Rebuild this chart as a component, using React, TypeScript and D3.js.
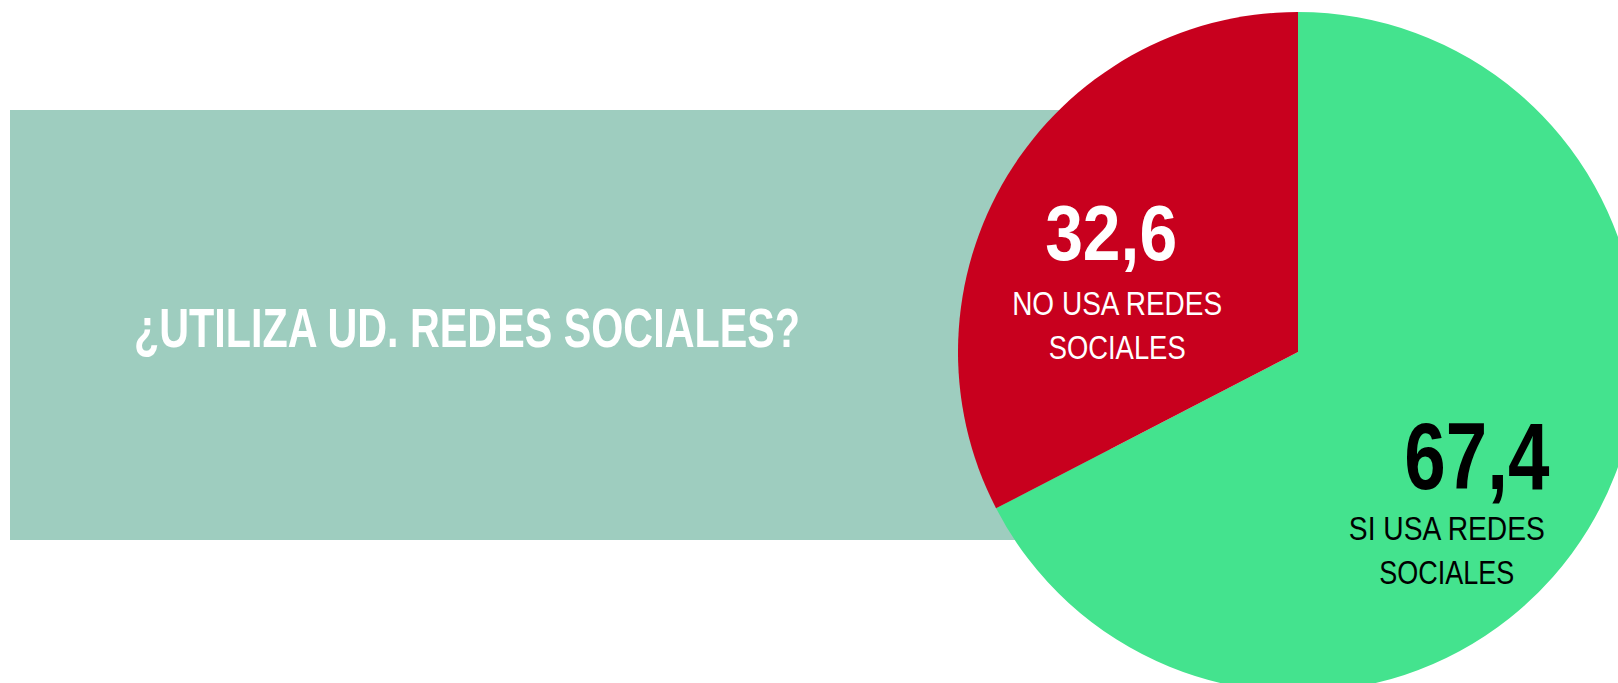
import React from "react";
import * as d3 from "d3";

const categories = ["SI USA REDES SOCIALES", "NO USA REDES SOCIALES"];
const labelLines = [["SI USA REDES", "SOCIALES"], ["NO USA REDES", "SOCIALES"]];
const values = [67.4, 32.6];
const valueLabels = ["67,4", "32,6"];
const colors = ["#44E38E", "#C8001E"];
const textColors = ["#000000", "#FFFFFF"];
const title = "¿UTILIZA UD. REDES SOCIALES?";

const W = 1618;
const H = 683;
const cx = 1298;
const cy = 352;
const R = 340;

// where each label block sits relative to its slice centroid
const numOffsets = [[8, 33], [-16, 12]];
const lineOffsets = [[-22, 84], [-10, 67]];
const numWidths = [145, 132];
const lineWidths = [[196, 135], [210, 137]];

const font = "'Liberation Sans Narrow', 'Liberation Sans', Arial, sans-serif";

export default function App() {
  const pie = d3.pie<number>().sort(null).value(d => d);
  const arcs = pie(values);
  const arc = d3.arc<d3.PieArcDatum<number>>().innerRadius(0).outerRadius(R);
  const labelArc = d3.arc<d3.PieArcDatum<number>>().innerRadius(200).outerRadius(200);

  return (
    <svg
      width={W}
      height={H}
      style={{ position: "absolute", left: 0, top: 0, background: "#fff" }}
    >
      <rect x={10} y={110} width={1100} height={430} fill="#9ECDBF" />
      <text
        x={134}
        y={347}
        fill="#fff"
        fontFamily={font}
        fontWeight="bold"
        fontSize={56}
        textLength={666}
        lengthAdjust="spacingAndGlyphs"
      >
        {title}
      </text>
      <g transform={`translate(${cx},${cy})`}>
        {arcs.map((a, i) => (
          <path key={categories[i]} d={arc(a) || ""} fill={colors[i]} />
        ))}
        {arcs.map((a, i) => {
          const [lx, ly] = labelArc.centroid(a);
          return (
            <g key={"l" + i} fill={textColors[i]} textAnchor="middle" fontFamily={font}>
              <text
                x={lx + numOffsets[i][0]}
                y={ly + numOffsets[i][1]}
                fontWeight="bold"
                fontSize={i === 0 ? 94 : 78}
                textLength={numWidths[i]}
                lengthAdjust="spacingAndGlyphs"
              >
                {valueLabels[i]}
              </text>
              {labelLines[i].map((t, j) => (
                <text
                  key={t}
                  x={lx + lineOffsets[i][0]}
                  y={ly + lineOffsets[i][1] + j * 44}
                  fontSize={34}
                  textLength={lineWidths[i][j]}
                  lengthAdjust="spacingAndGlyphs"
                >
                  {t}
                </text>
              ))}
            </g>
          );
        })}
      </g>
    </svg>
  );
}
